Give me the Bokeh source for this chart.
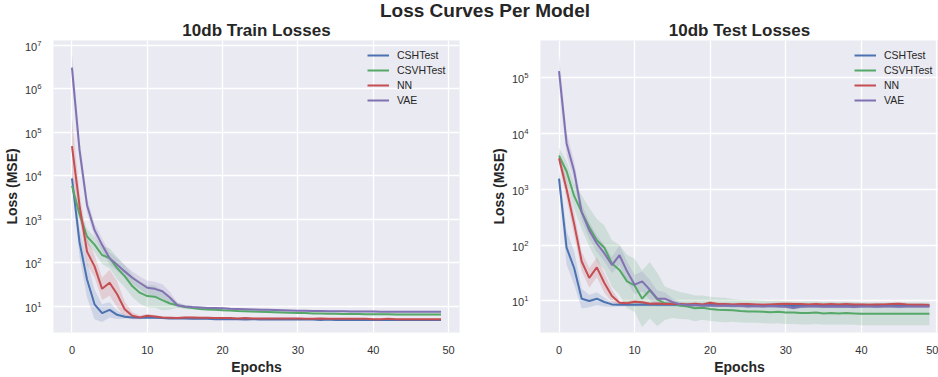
from bokeh.plotting import figure
from bokeh.models import Range1d, FixedTicker, LogTickFormatter, Div
from bokeh.layouts import column, row
from bokeh.embed import file_html
from bokeh.resources import INLINE

FONT = "Liberation Sans"
TXT = "#262626"

epochs = list(range(50))
models = ["CSHTest", "CSVHTest", "NN", "VAE"]
colors = ["#4C72B0", "#55A868", "#C44E52", "#8172B2"]
x_ticks = [0, 10, 20, 30, 40, 50]
y_ticks = [1e1, 1e2, 1e3, 1e4, 1e5, 1e6, 1e7]

# ---- 10db train losses (mean per epoch) ----
train_csh = [8700, 300, 41, 11, 6.9, 8.2, 6.3, 5.7, 5.5, 5.4,
             5.5, 5.4, 5.3, 5.2, 5.2, 5.2, 5.1, 5.1, 5.1, 5.0,
             5.0, 5.0, 5.0, 4.9, 5.0, 4.9, 4.9, 4.9, 4.9, 4.9,
             4.9, 4.9, 4.9, 4.8, 4.9, 4.8, 4.8, 4.8, 4.8, 4.8,
             4.8, 4.8, 4.8, 4.8, 4.8, 4.8, 4.8, 4.8, 4.8, 4.8]
train_csvh = [5900, 1300, 400, 260, 150, 127, 75, 49, 29, 20.4,
              17, 16.5, 13.7, 11.5, 10.5, 9.5, 9.0, 8.6, 8.4, 8.2,
              8.0, 7.9, 7.7, 7.6, 7.5, 7.4, 7.3, 7.2, 7.1, 7.0,
              6.9, 6.9, 6.8, 6.8, 6.7, 6.7, 6.6, 6.6, 6.6, 6.5,
              6.5, 6.5, 6.5, 6.4, 6.4, 6.4, 6.4, 6.4, 6.4, 6.4]
train_nn = [48000, 2100, 180, 82, 25, 34.5, 18.7, 8.5, 6.0, 5.5,
            6.0, 5.8, 5.5, 5.4, 5.3, 5.5, 5.5, 5.4, 5.4, 5.3,
            5.3, 5.3, 5.2, 5.3, 5.2, 5.2, 5.2, 5.2, 5.2, 5.2,
            5.2, 5.1, 5.1, 5.2, 5.1, 5.1, 5.1, 5.1, 5.1, 5.1,
            5.0, 5.0, 5.1, 5.0, 5.0, 5.0, 5.0, 5.0, 5.0, 5.0]
train_vae = [3100000, 40000, 2100, 560, 257, 126, 90, 63, 45, 34.5,
             26.5, 25, 22, 15.8, 10.5, 9.8, 9.5, 9.3, 9.1, 9.0,
             8.9, 8.7, 8.6, 8.5, 8.4, 8.3, 8.2, 8.1, 8.0, 7.9,
             7.8, 7.8, 7.7, 7.7, 7.6, 7.6, 7.6, 7.5, 7.5, 7.5,
             7.5, 7.4, 7.4, 7.4, 7.4, 7.4, 7.4, 7.4, 7.4, 7.4]

# multiplicative spread of the confidence band (upper = mean*f, lower = mean/f)
train_band_csh = [1.4, 2.2, 2.6, 2.2, 1.6, 1.5, 1.25, 1.12, 1.06, 1.05,
                  1.05, 1.05, 1.05, 1.05, 1.05, 1.05, 1.04, 1.04, 1.04, 1.04,
                  1.04, 1.04, 1.04, 1.04, 1.04, 1.04, 1.04, 1.04, 1.04, 1.04,
                  1.04, 1.04, 1.04, 1.04, 1.04, 1.04, 1.04, 1.04, 1.04, 1.04,
                  1.04, 1.04, 1.04, 1.04, 1.04, 1.04, 1.04, 1.04, 1.04, 1.04]
train_band_csvh = [1.3, 1.35, 1.5, 1.5, 1.6, 1.7, 1.8, 1.8, 1.8, 1.8,
                   1.8, 1.8, 1.7, 1.4, 1.15, 1.1, 1.08, 1.06, 1.05, 1.05,
                   1.05, 1.05, 1.05, 1.05, 1.05, 1.05, 1.05, 1.05, 1.05, 1.05,
                   1.05, 1.05, 1.05, 1.05, 1.05, 1.05, 1.05, 1.05, 1.05, 1.05,
                   1.05, 1.05, 1.05, 1.05, 1.05, 1.05, 1.05, 1.05, 1.05, 1.05]
train_band_nn = [4.5, 2.0, 2.0, 1.8, 1.8, 2.0, 2.0, 1.5, 1.2, 1.1,
                 1.1, 1.08, 1.06, 1.05, 1.05, 1.05, 1.05, 1.05, 1.05, 1.05,
                 1.04, 1.04, 1.04, 1.04, 1.04, 1.04, 1.04, 1.04, 1.04, 1.04,
                 1.04, 1.04, 1.04, 1.04, 1.04, 1.04, 1.04, 1.04, 1.04, 1.04,
                 1.04, 1.04, 1.04, 1.04, 1.04, 1.04, 1.04, 1.04, 1.04, 1.04]
train_band_vae = [2.2, 1.8, 1.5, 1.4, 1.4, 1.4, 1.4, 1.4, 1.4, 1.4,
                  1.45, 1.45, 1.45, 1.35, 1.15, 1.1, 1.06, 1.05, 1.05, 1.05,
                  1.05, 1.05, 1.05, 1.05, 1.05, 1.05, 1.05, 1.05, 1.05, 1.05,
                  1.05, 1.05, 1.05, 1.05, 1.05, 1.05, 1.05, 1.05, 1.05, 1.05,
                  1.05, 1.05, 1.05, 1.05, 1.05, 1.05, 1.05, 1.05, 1.05, 1.05]

# ---- 10db test losses ----
test_csh = [1550, 90, 39, 11, 10, 11, 9.6, 8.7, 8.6, 8.6,
            8.6, 8.7, 8.6, 8.7, 8.6, 8.6, 8.5, 8.6, 8.5, 8.4,
            8.5, 8.4, 8.4, 8.3, 8.3, 8.3, 8.2, 8.2, 8.3, 8.2,
            8.2, 8.1, 8.2, 8.2, 8.2, 8.2, 8.1, 8.2, 8.2, 8.2,
            8.1, 8.2, 8.1, 8.2, 8.2, 8.1, 8.2, 8.1, 8.1, 8.1]
test_csvh = [4000, 2100, 760, 390, 210, 122, 90, 47, 36, 22.5,
             19, 11, 15.6, 10.7, 9.1, 8.9, 8.3, 8.0, 7.4, 7.6,
             7.2, 7.0, 6.9, 6.8, 6.6, 6.5, 6.5, 6.4, 6.3, 6.4,
             6.2, 6.2, 6.1, 6.1, 6.2, 6.0, 6.1, 6.0, 6.1, 6.0,
             5.9, 5.9, 5.9, 5.9, 5.9, 5.9, 5.9, 5.9, 5.9, 5.9]
test_nn = [3600, 1000, 240, 51, 26, 40, 21, 12.3, 9.3, 9.1,
           9.7, 9.5, 8.9, 9.0, 8.8, 8.9, 8.8, 8.7, 8.9, 8.7,
           9.3, 8.8, 8.8, 8.7, 8.8, 8.8, 8.7, 8.6, 8.7, 8.8,
           8.9, 8.8, 8.8, 8.7, 8.8, 8.7, 8.8, 8.7, 8.8, 8.7,
           8.7, 8.6, 8.7, 8.7, 8.8, 8.9, 8.7, 8.6, 8.6, 8.5]
test_vae = [130000, 6600, 2100, 390, 183, 107, 71, 44, 66, 34,
            19.6, 22.5, 16, 11, 11, 9.6, 8.7, 8.4, 8.5, 8.3,
            8.3, 8.2, 8.3, 8.2, 8.2, 8.0, 8.1, 8.0, 8.1, 8.0,
            7.9, 7.5, 7.9, 8.0, 8.0, 7.9, 8.0, 7.9, 8.0, 7.8,
            8.0, 8.0, 7.9, 8.0, 8.0, 7.9, 8.0, 8.0, 8.0, 8.0]

test_band_csh = [1.5, 2.0, 2.0, 1.5, 1.3, 1.3, 1.2, 1.1, 1.08, 1.08,
                 1.08, 1.08, 1.08, 1.08, 1.08, 1.08, 1.08, 1.08, 1.08, 1.08,
                 1.08, 1.08, 1.08, 1.08, 1.08, 1.08, 1.08, 1.08, 1.08, 1.08,
                 1.08, 1.08, 1.08, 1.08, 1.08, 1.08, 1.08, 1.08, 1.08, 1.08,
                 1.08, 1.08, 1.08, 1.08, 1.08, 1.08, 1.08, 1.08, 1.08, 1.08]
test_band_csvh = [1.4, 1.5, 1.7, 2.0, 2.2, 2.4, 2.5, 2.6, 2.8, 3.0,
                  3.0, 3.2, 3.2, 3.0, 2.0, 1.8, 1.75, 1.7, 1.7, 1.65,
                  1.65, 1.65, 1.65, 1.6, 1.6, 1.6, 1.6, 1.6, 1.6, 1.6,
                  1.6, 1.6, 1.6, 1.6, 1.6, 1.6, 1.6, 1.6, 1.6, 1.6,
                  1.6, 1.6, 1.6, 1.6, 1.6, 1.6, 1.6, 1.6, 1.6, 1.6]
test_band_nn = [1.3, 1.5, 1.6, 1.5, 1.5, 1.5, 1.5, 1.3, 1.1, 1.1,
                1.08, 1.06, 1.06, 1.06, 1.06, 1.06, 1.06, 1.06, 1.06, 1.06,
                1.06, 1.06, 1.06, 1.06, 1.06, 1.06, 1.06, 1.06, 1.06, 1.06,
                1.06, 1.06, 1.06, 1.06, 1.06, 1.06, 1.06, 1.06, 1.06, 1.06,
                1.06, 1.06, 1.06, 1.06, 1.06, 1.06, 1.06, 1.06, 1.06, 1.06]
test_band_vae = [2.0, 1.6, 1.5, 1.4, 1.4, 1.4, 1.4, 1.4, 1.5, 1.5,
                 1.5, 1.5, 1.5, 1.4, 1.3, 1.15, 1.1, 1.08, 1.06, 1.06,
                 1.06, 1.06, 1.06, 1.06, 1.06, 1.06, 1.06, 1.06, 1.06, 1.06,
                 1.06, 1.06, 1.06, 1.06, 1.06, 1.06, 1.06, 1.06, 1.06, 1.06,
                 1.06, 1.06, 1.06, 1.06, 1.06, 1.06, 1.06, 1.06, 1.06, 1.06]

DIV_H = 17
FIG_H = 360


def build(title, size, mbl, mbr, xend, yr, series, bands, legend_loc):
    p = figure(height=FIG_H, y_axis_type="log",
               x_range=Range1d(-2.45, xend), y_range=Range1d(*yr),
               output_backend="svg", toolbar_location=None,
               min_border_left=mbl, min_border_right=mbr,
               min_border_top=0, min_border_bottom=0,
               background_fill_color="#EAEAF2", border_fill_color="white",
               **size)
    p.outline_line_color = None
    p.title.text = title
    p.title.align = "center"
    p.title.text_font = FONT
    p.title.text_font_size = "17px"
    p.title.text_font_style = "bold"
    p.title.text_color = TXT
    p.title.standoff = 2

    for g in (p.xgrid, p.ygrid):
        g.grid_line_color = "white"
        g.grid_line_width = 1.3

    p.xaxis.ticker = FixedTicker(ticks=x_ticks)
    p.yaxis.ticker = FixedTicker(ticks=y_ticks)
    p.yaxis.formatter = LogTickFormatter()
    for ax in (p.xaxis, p.yaxis):
        ax.axis_line_color = None
        ax.major_tick_line_color = None
        ax.minor_tick_line_color = None
        ax.major_label_text_font = FONT
        ax.major_label_text_font_size = "11px"
        ax.major_label_text_color = "#333333"
        ax.axis_label_text_font = FONT
        ax.axis_label_text_font_size = "14px"
        ax.axis_label_text_font_style = "bold"
        ax.axis_label_text_color = TXT
        ax.major_label_standoff = 6
        ax.axis_label_standoff = 2
    p.xaxis.major_label_standoff = 7
    p.xaxis.axis_label = "Epochs"
    p.yaxis.axis_label = "Loss (MSE)"

    for col, vals, fac in zip(colors, series, bands):
        lo = [v / f for v, f in zip(vals, fac)]
        hi = [v * f for v, f in zip(vals, fac)]
        p.varea(x=epochs, y1=lo, y2=hi, fill_color=col, fill_alpha=0.18)
    for name, col, vals in zip(models, colors, series):
        p.line(epochs, vals, line_color=col, line_width=2, legend_label=name)

    lg = p.legend[0]
    lg.location = legend_loc
    lg.border_line_color = None
    lg.background_fill_alpha = 0
    lg.label_text_font = FONT
    lg.label_text_font_size = "10.5px"
    lg.label_text_color = TXT
    lg.glyph_width = 22
    lg.glyph_height = 12
    lg.label_height = 12
    lg.label_standoff = 8
    lg.spacing = 3
    lg.padding = 3
    lg.margin = 0
    return p


p1 = build("10db Train Losses", dict(width=470), 52, 11, 51.45, (2.47, 1.3e7),
           [train_csh, train_csvh, train_nn, train_vae],
           [train_band_csh, train_band_csvh, train_band_nn, train_band_vae],
           (314, 226))
p2 = build("10db Test Losses", dict(frame_width=398), 70, 0, 50.2, (2.73, 4.6e5),
           [test_csh, test_csvh, test_nn, test_vae],
           [test_band_csh, test_band_csvh, test_band_nn, test_band_vae],
           (314, 226))

title_div = Div(
    text=('<div style="position:relative;top:1px;width:938px;padding-left:32px;'
          'box-sizing:border-box;text-align:center;font-family:\'Liberation Sans\';'
          'font-weight:bold;font-size:19px;line-height:19px;color:#262626;'
          'white-space:nowrap">Loss Curves Per Model</div>'),
    width=938, height=DIV_H, margin=(0, 0, 0, 0))

layout = column(title_div, row(p1, p2))

with open("out.html", "w") as f:
    f.write(file_html(layout, INLINE))
